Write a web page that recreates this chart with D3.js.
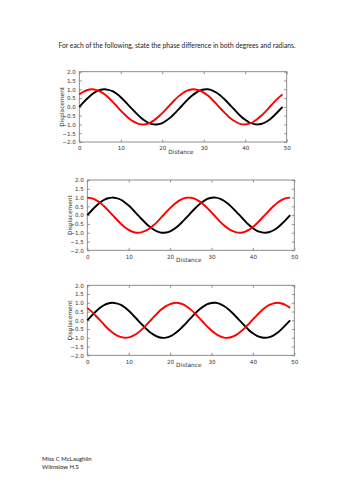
<!DOCTYPE html>
<html>
<head>
<meta charset="utf-8">
<script src="https://cdn.jsdelivr.net/npm/d3@7"></script>
<style>
  html, body { margin: 0; padding: 0; background: #fff; }
  svg { display: block; }
</style>
</head>
<body>
<div id="chart"></div>
<script>
const distance = d3.range(0, 50)

const blackWave = [0, 0.25, 0.49, 0.70, 0.86, 0.96, 1.00, 0.97, 0.89, 0.74, 0.55, 0.31, 0.06, -0.19, -0.43, -0.65, -0.82, -0.94, -1.00, -0.99,
  -0.92, -0.78, -0.60, -0.37, -0.13, 0.13, 0.38, 0.60, 0.78, 0.92, 0.99, 1.00, 0.94, 0.82, 0.65, 0.43, 0.19, -0.06, -0.31, -0.55,
  -0.74, -0.89, -0.97, -1.00, -0.96, -0.86, -0.70, -0.49, -0.25, 0]

const redWave1 = [0.71, 0.86, 0.96, 1.00, 0.97, 0.88, 0.73, 0.53, 0.30, 0.05, -0.21, -0.45, -0.66, -0.83, -0.94, -1.00, -0.99, -0.91, -0.77, -0.58,
  -0.36, -0.11, 0.14, 0.39, 0.61, 0.79, 0.92, 0.99, 0.99, 0.93, 0.81, 0.64, 0.42, 0.18, -0.08, -0.33, -0.56, -0.75, -0.89, -0.98,
  -1.00, -0.95, -0.85, -0.68, -0.48, -0.24, 0.02, 0.27, 0.51, 0.71]

const redWave2 = [1.00, 0.97, 0.87, 0.72, 0.52, 0.28, 0.03, -0.22, -0.46, -0.67, -0.84, -0.95, -1.00, -0.98, -0.90, -0.76, -0.57, -0.35, -0.10, 0.16,
  0.40, 0.62, 0.80, 0.93, 0.99, 0.99, 0.93, 0.80, 0.62, 0.40, 0.16, -0.10, -0.35, -0.57, -0.76, -0.90, -0.98, -1.00, -0.95, -0.84,
  -0.67, -0.46, -0.22, 0.03, 0.28, 0.52, 0.72, 0.87, 0.97, 1.00]

const redWave3 = [0.71, 0.51, 0.27, 0.02, -0.24, -0.48, -0.68, -0.85, -0.95, -1.00, -0.98, -0.89, -0.75, -0.56, -0.33, -0.08, 0.18, 0.42, 0.64, 0.81,
  0.93, 0.99, 0.99, 0.92, 0.79, 0.61, 0.39, 0.14, -0.11, -0.36, -0.58, -0.77, -0.91, -0.99, -1.00, -0.94, -0.83, -0.66, -0.45, -0.21,
  0.05, 0.30, 0.53, 0.73, 0.88, 0.97, 1.00, 0.96, 0.86, 0.71]

const xTicks = [0, 10, 20, 30, 40, 50]
const yTicks = [2.0, 1.5, 1.0, 0.5, 0.0, -0.5, -1.0, -1.5, -2.0]

const titleText = 'For each of the following, state the phase difference in both degrees and radians.'
const footerLines = ['Miss C McLaughlin', 'Wilmslow H.S']

const panels = [
  { red: redWave1, left: 79.3, right: 286.7, top: 71.7, bottom: 142 },
  { red: redWave2, left: 87.3, right: 294.3, top: 180, bottom: 250.3 },
  { red: redWave3, left: 87.3, right: 294.3, top: 285.3, bottom: 355.3 },
]

const width = 354
const height = 500
const tickFont = '"DejaVu Sans", sans-serif'
const textFont = 'Lato, "Open Sans", sans-serif'

const svg = d3.select('#chart').append('svg')
  .attr('width', width)
  .attr('height', height)

svg.append('text')
  .attr('x', 177)
  .attr('y', 47.5)
  .attr('text-anchor', 'middle')
  .attr('font-family', textFont)
  .attr('font-size', 7.2)
  .attr('fill', '#222')
  .attr('textLength', 237)
  .attr('lengthAdjust', 'spacingAndGlyphs')
  .text(titleText)

svg.append('g')
  .selectAll('text')
  .data(footerLines)
  .join('text')
  .attr('x', 42)
  .attr('y', (d, i) => 461 + i * 7.6)
  .attr('font-family', textFont)
  .attr('font-size', 6)
  .attr('fill', '#222')
  .text((d) => d)

panels.forEach((p) => {
  const x = d3.scaleLinear().domain([0, 50]).range([p.left, p.right])
  const y = d3.scaleLinear().domain([-2, 2]).range([p.bottom, p.top])
  const g = svg.append('g')

  const line = d3.line()
    .x((d, i) => x(distance[i]))
    .y((d) => y(d))
    .curve(d3.curveNatural)

  // bottom / left axes, ticks pointing inward (matplotlib classic)
  const bottomAxis = g.append('g')
    .attr('transform', `translate(0,${p.bottom})`)
    .call(d3.axisBottom(x).tickValues(xTicks).tickSizeInner(-2.5).tickSizeOuter(0).tickPadding(4.5).tickFormat(d3.format('d')))
  const leftAxis = g.append('g')
    .attr('transform', `translate(${p.left},0)`)
    .call(d3.axisLeft(y).tickValues(yTicks).tickSizeInner(-2.5).tickSizeOuter(0).tickPadding(3.5).tickFormat(d3.format('.1f')))
  const topAxis = g.append('g')
    .attr('transform', `translate(0,${p.top})`)
    .call(d3.axisTop(x).tickValues(xTicks).tickSizeInner(-2.5).tickSizeOuter(0).tickFormat(''))
  const rightAxis = g.append('g')
    .attr('transform', `translate(${p.right},0)`)
    .call(d3.axisRight(y).tickValues(yTicks).tickSizeInner(-2.5).tickSizeOuter(0).tickFormat(''))

  for (const ax of [bottomAxis, leftAxis, topAxis, rightAxis]) {
    ax.select('.domain').remove()
    ax.selectAll('line').attr('stroke', '#777').attr('stroke-width', 0.8)
    ax.selectAll('text')
      .attr('font-family', tickFont)
      .attr('font-size', 5.6)
      .attr('fill', '#333')
  }

  g.append('rect')
    .attr('x', p.left)
    .attr('y', p.top)
    .attr('width', p.right - p.left)
    .attr('height', p.bottom - p.top)
    .attr('fill', 'none')
    .attr('stroke', '#808080')
    .attr('stroke-width', 0.9)

  g.append('path')
    .datum(blackWave)
    .attr('d', line)
    .attr('fill', 'none')
    .attr('stroke', '#000')
    .attr('stroke-width', 1.9)

  g.append('path')
    .datum(p.red)
    .attr('d', line)
    .attr('fill', 'none')
    .attr('stroke', '#ff0000')
    .attr('stroke-width', 1.9)

  g.append('text')
    .attr('x', (p.left + p.right) / 2 - 2)
    .attr('y', p.bottom + 11.5)
    .attr('text-anchor', 'middle')
    .attr('font-family', tickFont)
    .attr('font-size', 5.8)
    .attr('fill', '#333')
    .text('Distance')

  g.append('text')
    .attr('transform', `translate(${p.left - 15.5},${(p.top + p.bottom) / 2}) rotate(-90)`)
    .attr('text-anchor', 'middle')
    .attr('font-family', tickFont)
    .attr('font-size', 5.8)
    .attr('fill', '#333')
    .text('Displacement')
})
</script>
</body>
</html>
